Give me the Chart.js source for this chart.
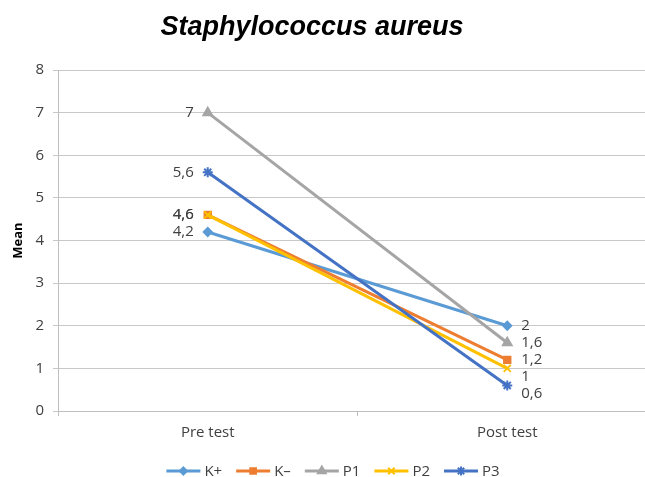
<!DOCTYPE html>
<html>
<head>
<meta charset="utf-8">
<script src="https://cdn.jsdelivr.net/npm/chart.js@4/dist/chart.umd.min.js"></script>
<style>
  body { margin: 0; overflow: hidden; background: #fff; }
  #wrap { position: relative; width: 664px; height: 477px; }
  #title {
    position: absolute; left: 0; top: 11px; width: 624px; text-align: center; line-height: 30px;
    font: italic bold 27px "Liberation Sans", Arial, sans-serif; color: #000;
  }
</style>
</head>
<body>
<div id="wrap">
  <div id="title">Staphylococcus aureus</div>
  <canvas id="chart"></canvas>
</div>
<script>
// values
const categories = ['Pre test', 'Post test'];
const kPlus = [4.2, 2];
const kMinus = [4.6, 1.2];
const p1 = [7, 1.6];
const p2 = [4.6, 1];
const p3 = [5.6, 0.6];
const yTicks = [0, 1, 2, 3, 4, 5, 6, 7, 8];

const series = [
    { label: 'K+', data: kPlus, color: '#5B9BD5', style: 'rectRot', radius: 4 },
    { label: 'K\u2013', data: kMinus, color: '#ED7D31', style: 'rect', radius: 4.5 },
    { label: 'P1', data: p1, color: '#A5A5A5', style: 'triangle', radius: 5 },
    { label: 'P2', data: p2, color: '#FFC000', style: 'crossRot', radius: 5 },
    { label: 'P3', data: p3, color: '#4472C4', style: 'star', radius: 5 }
];

const FONT = '"Open Sans", "Liberation Sans", sans-serif';
const TEXT = '#404040';

// value labels next to the points, pushed apart when they would overlap
const pointLabels = {
    id: 'pointLabels',
    afterDatasetsDraw(chart) {
        const c = chart.ctx;
        c.save();
        c.font = '15px ' + FONT;
        c.fillStyle = TEXT;
        c.textBaseline = 'middle';
        categories.forEach((cat, i) => {
            const items = chart.data.datasets.map((ds, d) => {
                const el = chart.getDatasetMeta(d).data[i];
                return { v: ds.data[i], x: el.x, y: el.y };
            }).sort((a, b) => a.y - b.y);
            let prev = null;
            items.forEach(it => {
                it.origY = it.y;
                if (prev) {
                    if (it.v === prev.v && Math.abs(it.origY - prev.origY) < 0.5) it.y = prev.y;
                    else if (it.y < prev.y + 17) it.y = prev.y + 17;
                }
                const text = String(it.v).replace('.', ',');
                if (i === 0) {
                    c.textAlign = 'right';
                    c.fillText(text, it.x - 14, it.y);
                } else {
                    c.textAlign = 'left';
                    c.fillText(text, it.x + 14, it.y);
                }
                prev = it;
            });
        });
        c.restore();
    }
};

// legend drawn as line + marker like the original
const lineLegend = {
    id: 'lineLegend',
    afterDraw(chart) {
        const c = chart.ctx;
        const lineLen = 34, gap = 4, spacing = 14, y = 471, center = 333;
        c.save();
        c.font = '15px ' + FONT;
        c.textBaseline = 'middle';
        c.textAlign = 'left';
        const widths = series.map(s => lineLen + gap + c.measureText(s.label).width);
        const total = widths.reduce((a, b) => a + b, 0) + spacing * (series.length - 1);
        let x = center - total / 2;
        series.forEach((s, i) => {
            c.strokeStyle = s.color;
            c.fillStyle = s.color;
            c.lineWidth = 3;
            c.beginPath();
            c.moveTo(x, y);
            c.lineTo(x + lineLen, y);
            c.stroke();
            c.lineWidth = 2;
            Chart.helpers.drawPoint(c, { pointStyle: s.style, radius: s.radius - 0.5, rotation: 0, borderWidth: 2 }, x + lineLen / 2, y);
            c.fillStyle = TEXT;
            c.fillText(s.label, x + lineLen + gap, y + 1);
            x += widths[i] + spacing;
        });
        c.restore();
    }
};

new Chart(document.getElementById('chart'), {
    type: 'line',
    data: {
        labels: categories,
        datasets: series.map((s, i) => ({
            label: s.label,
            data: s.data,
            borderColor: s.color,
            backgroundColor: s.color,
            borderWidth: 3,
            pointStyle: s.style,
            pointRadius: s.radius,
            pointBorderWidth: 2,
            pointHoverRadius: s.radius,
            tension: 0,
            order: series.length - i
        }))
    },
    options: {
        responsive: true,
        maintainAspectRatio: false,
        animation: false,
        layout: { padding: { top: 70, left: 0, right: 2, bottom: 0 } },
        plugins: {
            legend: { display: false },
            title: { display: false },
            tooltip: { enabled: false }
        },
        scales: {
            x: {
                type: 'category',
                offset: true,
                afterFit(scale) { scale.height = 66; },
                grid: {
                    display: true,
                    offset: true,
                    drawOnChartArea: false,
                    tickLength: 5,
                    color: '#BFBFBF'
                },
                border: { color: '#BFBFBF' },
                ticks: { color: TEXT, font: { family: FONT, size: 15 }, padding: 8 }
            },
            y: {
                min: 0,
                max: 8,
                afterFit(scale) { scale.width = 58; },
                afterBuildTicks(scale) { scale.ticks = yTicks.map(v => ({ value: v })); },
                grid: { color: '#C8C8C8', tickLength: 5 },
                border: { color: '#BFBFBF' },
                ticks: { color: TEXT, font: { family: FONT, size: 15 }, padding: 9 },
                title: {
                    display: true,
                    text: 'Mean',
                    color: '#000',
                    font: { family: FONT, size: 13, weight: 'bold' },
                    padding: { top: 10, bottom: 0 }
                }
            }
        }
    },
    plugins: [pointLabels, lineLegend]
});
</script>
</body>
</html>
